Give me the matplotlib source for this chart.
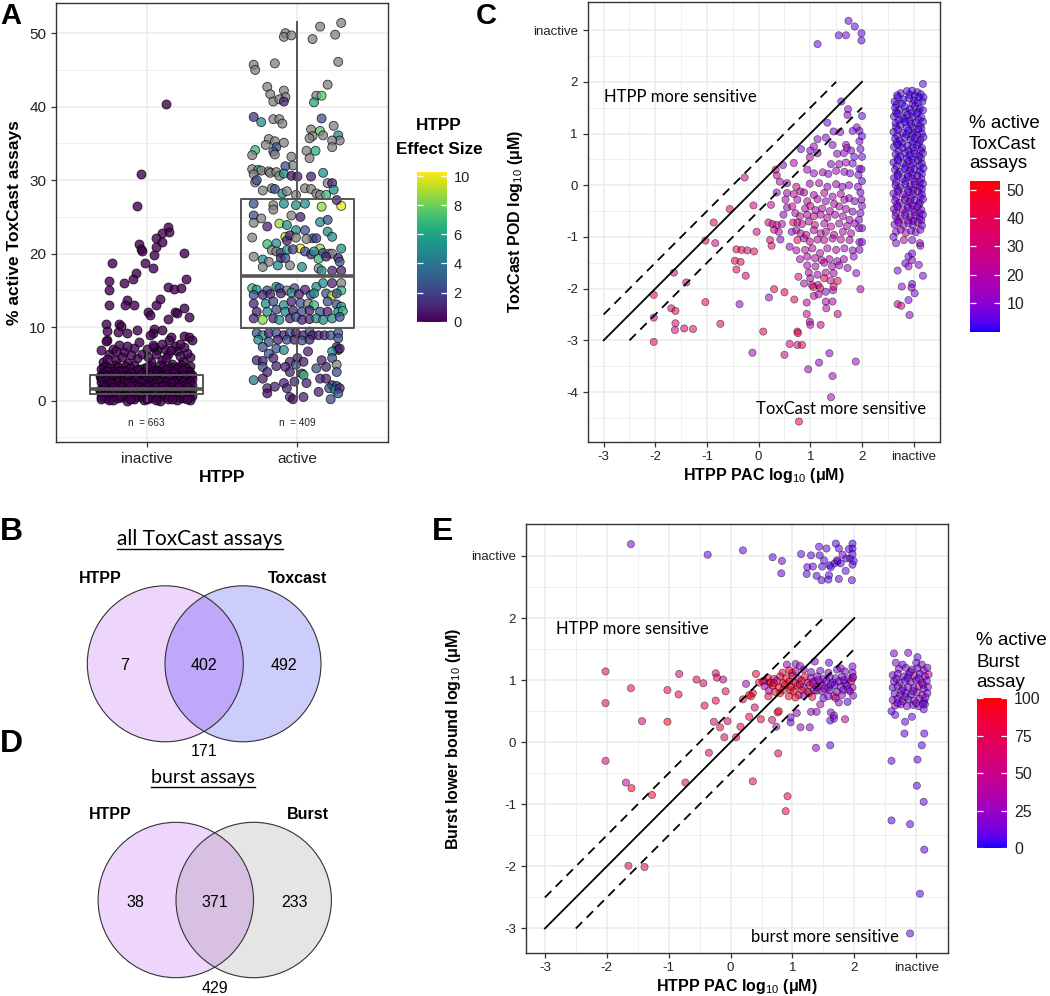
import numpy as np
import matplotlib
matplotlib.use("Agg")
import matplotlib.pyplot as plt
from matplotlib import cm
from matplotlib.colors import ListedColormap, Normalize
from matplotlib.patches import Circle

plt.rcParams["font.family"] = ["Liberation Sans", "DejaVu Sans"]
plt.rcParams["mathtext.fontset"] = "custom"
plt.rcParams["mathtext.rm"] = "Liberation Sans"
plt.rcParams["mathtext.it"] = "Liberation Sans:italic"
plt.rcParams["mathtext.bf"] = "Liberation Sans:bold"

# ---------------- panel A: % active ToxCast assays by HTPP call ----------------
a_groups = ["inactive", "active"]
a_counts = [663, 409]
# whislo, q1, median, q3, whishi
a_box_inactive = [0.0, 0.9, 1.6, 3.5, 7.2]
a_box_active = [0.2, 9.9, 17.0, 27.5, 51.5]

# (jitter, % active) -- effect size 0 for all HTPP inactives
a_inactive_pts = [
    (0.13, 40.3), (-0.04, 30.9), (-0.06, 26.5), (0.14, 23.7), (0.15, 22.9), (0.10, 22.8), (0.06, 22.2),
    (0.10, 21.6), (0.06, 20.9), (-0.05, 21.3), (-0.04, 20.7), (-0.03, 20.4), (0.25, 20.1), (0.05, 19.8),
    (-0.23, 18.8), (-0.01, 18.8), (0.04, 18.1), (-0.07, 17.4), (-0.09, 16.6), (-0.25, 16.3), (0.26, 16.5),
    (-0.15, 16.0), (-0.25, 15.0), (0.14, 15.5), (0.18, 15.2), (0.23, 15.4), (-0.13, 13.7), (0.09, 13.9),
    (-0.25, 13.0), (-0.08, 13.0), (-0.14, 13.0), (0.06, 13.0), (0.01, 12.1), (0.19, 12.1), (0.20, 11.9),
    (0.25, 12.6), (0.02, 11.6), (0.14, 11.1), (0.28, 11.4), (-0.27, 10.5), (-0.18, 10.5), (-0.17, 10.1),
    (-0.26, 9.5), (-0.19, 9.4), (-0.06, 9.6), (-0.13, 9.2), (0.05, 9.7), (0.04, 9.2), (0.10, 9.6),
    (0.02, 9.0), (0.16, 8.7), (0.25, 8.8), (0.28, 8.6), (-0.26, 8.3),
    (-0.29, 5.2), (-0.20, 5.5), (-0.12, 5.1), (-0.06, 5.8), (0.03, 5.3), (0.10, 5.6), (0.17, 5.0),
    (0.24, 5.4), (0.29, 5.9), (-0.25, 6.3), (-0.15, 6.6), (-0.03, 6.4), (0.07, 6.9), (0.14, 6.3),
    (0.20, 6.7), (0.27, 6.5), (-0.30, 6.9), (-0.22, 7.1), (-0.08, 7.2), (0.00, 7.0), (0.05, 7.3),
    (0.12, 7.1), (0.19, 7.4), (0.25, 7.3), (-0.18, 7.6), (0.10, 7.7), (-0.27, 8.1), (0.30, 8.2),
    (-0.26, 5.7), (-0.16, 5.9), (0.01, 6.0), (0.13, 5.8), (0.22, 6.1), (-0.10, 6.2), (0.06, 6.3),
    (-0.20, 6.8), (0.16, 6.9), (-0.13, 7.5), (0.04, 7.6), (0.22, 7.7), (-0.05, 8.0), (0.15, 8.3),
    (-0.27, 4.7), (-0.21, 4.8), (-0.14, 4.7), (-0.08, 4.9), (0.03, 4.75), (0.09, 4.8), (0.17, 4.65),
    (0.23, 4.9), (0.29, 4.7), (-0.29, 4.55), (-0.19, 4.6), (-0.02, 4.4), (0.11, 4.6), (0.21, 4.55),
    (-0.30, 4.3), (-0.24, 4.4), (-0.17, 4.2), (-0.11, 4.5), (-0.05, 4.3), (0.00, 4.6), (0.06, 4.2),
    (0.14, 4.4), (0.20, 4.3), (0.26, 4.5), (-0.22, 4.0), (-0.08, 3.9), (0.04, 4.0), (0.17, 4.0), (0.28, 4.1),
    (-0.29, 3.9), (-0.15, 4.0), (-0.02, 3.95), (0.10, 3.9), (0.22, 3.95), (-0.26, 4.1), (-0.18, 4.1),
    (-0.06, 4.15), (0.07, 4.1), (0.13, 4.15), (0.24, 4.2),
    (-0.28, 3.6), (-0.21, 3.7), (-0.15, 3.5), (-0.10, 3.8), (-0.04, 3.6), (0.02, 3.5), (0.07, 3.7),
    (0.13, 3.6), (0.18, 3.8), (0.24, 3.5), (0.29, 3.7), (-0.31, 3.4), (-0.23, 3.45), (-0.13, 3.4),
    (-0.01, 3.4), (0.09, 3.45), (0.20, 3.4), (0.30, 3.5), (-0.26, 3.3), (-0.12, 3.3), (0.00, 3.2),
    (0.11, 3.3), (0.22, 3.2), (-0.30, 3.2), (-0.20, 3.3), (-0.07, 3.25), (0.06, 3.3), (0.16, 3.2), (0.28, 3.3),
    (-0.30, 2.9), (-0.25, 3.0), (-0.19, 2.8), (-0.13, 3.1), (-0.07, 2.9), (-0.02, 2.8), (0.04, 3.0),
    (0.10, 2.9), (0.15, 3.1), (0.21, 2.8), (0.26, 3.0), (0.30, 2.9), (-0.27, 2.75), (-0.16, 2.7),
    (-0.05, 2.7), (0.07, 2.75), (0.18, 2.7), (0.28, 2.7), (-0.24, 2.6), (-0.10, 2.6),
    (0.02, 2.5), (0.13, 2.6), (0.24, 2.6), (-0.30, 2.5), (-0.19, 2.6), (-0.15, 2.5), (-0.04, 2.55),
    (0.08, 2.6), (0.18, 2.5), (0.29, 2.55),
    (-0.29, 2.2), (-0.23, 2.3), (-0.17, 2.1), (-0.12, 2.4), (-0.06, 2.2), (0.00, 2.1), (0.05, 2.3),
    (0.11, 2.2), (0.16, 2.4), (0.22, 2.1), (0.27, 2.3), (-0.26, 2.0), (-0.19, 2.05), (-0.08, 2.0),
    (0.03, 2.05), (0.13, 2.0), (0.24, 2.0), (0.30, 2.1), (-0.28, 1.8), (-0.22, 1.9), (-0.16, 1.85),
    (-0.11, 1.95), (-0.05, 1.8), (0.00, 1.9), (0.06, 1.85), (0.11, 1.95), (0.16, 1.8), (0.21, 1.9), (0.27, 1.85),
    (-0.31, 1.5), (-0.26, 1.4), (-0.20, 1.6), (-0.14, 1.5), (-0.09, 1.3), (-0.03, 1.6), (0.02, 1.4),
    (0.08, 1.5), (0.13, 1.6), (0.19, 1.3), (0.24, 1.5), (0.30, 1.4), (-0.31, 1.3), (-0.24, 1.25),
    (-0.15, 1.35), (-0.05, 1.3), (0.06, 1.3), (0.16, 1.4), (0.25, 1.3), (-0.27, 1.1), (-0.18, 1.2),
    (-0.06, 1.1), (0.05, 1.0), (0.16, 1.1), (0.26, 1.2), (-0.30, 1.0), (-0.22, 1.1), (-0.12, 1.05),
    (0.00, 1.15), (0.10, 1.1), (0.21, 1.0), (0.29, 1.1), (-0.01, 1.2),
    (-0.28, 0.8), (-0.22, 0.9), (-0.16, 0.7), (-0.11, 0.9), (-0.05, 0.8), (0.01, 0.7), (0.06, 0.9),
    (0.12, 0.8), (0.17, 0.7), (0.23, 0.9), (0.28, 0.8), (-0.25, 0.65), (-0.13, 0.6), (-0.02, 0.65),
    (0.09, 0.6), (0.20, 0.65), (0.30, 0.7), (-0.20, 0.5), (-0.07, 0.5), (0.07, 0.4),
    (0.19, 0.5), (-0.30, 0.5), (0.28, 0.5), (-0.27, 0.4), (-0.16, 0.45), (-0.10, 0.35), (0.01, 0.4),
    (0.12, 0.45), (0.23, 0.35), (-0.03, 0.5), (0.15, 0.6),
    (-0.30, 0.2), (-0.25, 0.1), (-0.19, 0.3), (-0.13, 0.0), (-0.08, 0.2), (-0.02, 0.1), (0.03, 0.3),
    (0.09, 0.0), (0.14, 0.2), (0.20, 0.1), (0.25, 0.3), (0.29, 0.1), (-0.22, 0.15), (-0.11, 0.2),
    (0.00, 0.25), (0.06, 0.15), (0.17, 0.25), (0.27, 0.2),
]

# (jitter, % active, HTPP effect size; None = missing -> grey)
a_active_pts = [
    (0.29, 51.4, None), (0.15, 50.9, None), (0.25, 49.8, None), (0.10, 49.2, None), (-0.08, 50.0, None),
    (-0.09, 49.5, None), (-0.04, 49.7, None), (0.27, 46.1, None), (-0.29, 45.7, None), (-0.28, 45.0, None),
    (-0.15, 45.9, None), (0.20, 43.0, None), (-0.20, 42.7, None), (-0.18, 41.7, None), (-0.09, 42.2, None),
    (-0.08, 41.3, None), (-0.16, 40.7, None), (-0.12, 41.0, None), (-0.09, 40.7, 1.0), (0.125, 41.5, None),
    (0.16, 41.5, 7.5), (0.11, 40.6, 6.0), (-0.29, 38.6, 1.5), (-0.24, 37.9, 5.0), (-0.16, 38.3, None),
    (-0.12, 38.3, None), (-0.10, 37.7, None), (0.16, 38.4, 2.5), (0.09, 36.9, None), (0.15, 36.7, 7.5),
    (0.10, 36.0, None), (0.08, 35.7, None), (0.17, 36.1, None), (0.24, 37.4, None), (0.27, 36.1, 5.0),
    (0.28, 35.4, None), (0.23, 35.4, None), (0.23, 34.5, None), (-0.19, 35.6, None), (-0.15, 35.3, None),
    (-0.21, 34.8, None), (-0.14, 34.5, 2.5), (-0.16, 33.9, 3.0), (-0.15, 33.5, None), (-0.09, 35.1, None),
    (-0.28, 34.1, 7.0), (-0.30, 33.4, None), (-0.04, 33.2, None), (0.12, 34.0, 6.5), (0.06, 34.0, None),
    (0.08, 33.0, None), (-0.03, 32.0, None), (-0.08, 31.9, 2.5), (-0.30, 31.5, None), (-0.26, 31.4, 6.0),
    (-0.24, 31.3, None), (-0.29, 30.8, None), (-0.28, 29.7, None), (-0.27, 30.0, 2.5), (-0.19, 31.2, None),
    (-0.18, 31.0, None), (-0.14, 31.1, None), (-0.12, 30.6, None), (-0.09, 30.9, 5.0), (-0.04, 30.6, 0.5),
    (0.00, 30.5, 1.0), (0.09, 30.5, 1.0), (0.17, 31.0, 5.0), (0.20, 29.6, None), (0.23, 29.6, 1.0),
    (0.24, 28.7, 5.0), (-0.23, 28.6, None), (-0.17, 28.9, None), (-0.15, 28.8, 2.5), (-0.10, 28.2, 5.0),
    (-0.07, 28.5, None), (0.05, 28.9, None), (0.09, 28.8, None), (0.125, 28.2, None), (0.15, 28.0, None),
    (0.19, 28.0, 7.0), (-0.01, 28.0, None), (0.29, 26.5, 10.0), (0.26, 27.3, 1.0), (0.16, 26.4, 8.5),
    (-0.29, 26.8, 2.5), (-0.16, 26.6, None), (-0.16, 26.0, None), (-0.09, 26.8, 5.0), (-0.01, 26.6, 5.0),
    (0.05, 26.8, 5.0), (-0.29, 25.2, 2.5), (-0.04, 25.2, None), (0.02, 25.0, 1.0), (-0.29, 24.2, None),
    (-0.24, 24.8, None), (-0.12, 24.1, 8.5), (-0.07, 23.9, 5.0), (0.15, 24.3, 5.0), (0.20, 24.6, 2.5),
    (-0.20, 23.7, 1.0), (-0.01, 23.2, 5.0), (0.05, 23.2, 2.5), (0.20, 23.0, 5.0), (0.23, 22.3, 5.0),
    (-0.30, 22.2, None), (-0.08, 22.3, 9.0), (-0.07, 21.8, 1.0), (-0.05, 22.5, 1.0), (-0.01, 22.2, None),
    (0.10, 22.1, 2.5), (0.125, 22.1, 2.0), (0.06, 22.0, None), (-0.14, 21.4, 5.0), (-0.20, 21.3, 7.0),
    (0.02, 20.7, 10.0), (0.15, 20.7, 8.5), (0.29, 20.7, 5.0), (-0.17, 20.5, None), (-0.14, 20.3, None),
    (-0.11, 20.1, 2.5), (-0.07, 20.5, 5.0), (-0.03, 20.6, 2.0), (0.05, 20.3, 2.5), (0.09, 19.9, 1.0),
    (0.11, 20.3, 5.0), (0.17, 20.1, 2.5), (0.21, 20.0, None), (0.23, 20.0, None), (-0.29, 19.6, None),
    (-0.23, 19.2, 5.0), (-0.19, 18.9, None), (-0.11, 19.4, 1.0), (-0.08, 19.4, 2.5), (0.14, 19.3, 7.0),
    (0.19, 19.6, 1.0), (0.27, 19.4, 1.0), (0.28, 18.9, 2.5), (-0.23, 18.2, None), (-0.13, 18.4, 5.0),
    (-0.05, 18.4, None), (0.03, 18.2, 5.0), (0.14, 18.0, None), (0.16, 17.7, 5.0), (0.23, 17.7, 1.0),
    (0.29, 17.7, 1.0),
    (-0.30, 15.3, 7.0), (-0.27, 15.1, 5.0), (-0.20, 15.0, 2.5), (-0.14, 15.5, 5.0), (-0.12, 15.3, 2.5),
    (-0.07, 15.0, None), (-0.02, 15.3, 2.5), (0.05, 15.1, 1.0), (0.125, 15.5, 5.0), (0.17, 16.0, 5.0),
    (0.23, 16.0, 1.0), (0.29, 16.0, None), (0.29, 15.0, 7.0), (-0.29, 14.4, 2.5), (-0.23, 14.4, 1.0),
    (-0.18, 14.5, 1.0), (-0.11, 14.6, 1.0), (-0.04, 14.7, 5.0), (0.01, 14.5, 1.0), (0.09, 14.4, 2.5),
    (0.11, 14.6, 5.0), (0.19, 14.6, 2.5), (0.23, 14.3, 9.0), (0.26, 14.6, 2.5), (-0.29, 13.2, 1.0),
    (-0.21, 13.2, 5.0), (-0.16, 13.5, 2.5), (-0.09, 13.0, 5.0), (-0.04, 13.5, 1.0), (0.02, 13.3, 2.5),
    (0.07, 13.2, None), (0.11, 13.0, 7.0), (0.20, 13.5, 2.5), (0.26, 13.1, 2.5), (0.29, 12.8, 5.0),
    (-0.27, 12.1, 1.0), (-0.20, 12.1, 5.0), (-0.14, 12.4, 2.5), (-0.08, 12.1, 5.0), (-0.03, 12.3, 1.0),
    (0.03, 12.1, 2.5), (0.08, 12.3, 1.0), (0.15, 12.1, 2.5), (0.20, 12.1, 1.0), (0.27, 12.1, 5.0),
    (0.30, 12.2, 7.0), (-0.29, 11.2, 1.0), (-0.23, 11.0, 8.5), (-0.16, 11.2, 1.0), (-0.12, 11.0, 5.0),
    (-0.05, 11.2, 1.0), (-0.01, 11.4, 2.5), (0.03, 11.0, 1.0), (0.08, 11.1, 1.0), (0.125, 11.2, 5.0),
    (0.17, 11.0, 5.0), (0.23, 11.2, 5.0), (0.28, 11.4, 2.5), (-0.27, 9.2, 2.5), (-0.23, 8.9, 5.0),
    (-0.19, 9.2, 1.0), (-0.14, 9.2, 2.5), (-0.09, 8.9, 1.0), (-0.05, 9.2, 2.5), (-0.01, 9.2, 1.0),
    (0.04, 8.9, 1.0), (0.08, 9.4, 2.5), (0.10, 8.9, 1.0), (0.14, 8.9, 1.0), (0.18, 8.9, 1.0),
    (0.22, 8.9, 2.5), (0.27, 9.2, 2.5), (-0.26, 8.3, 5.0), (-0.19, 8.0, 2.5), (-0.13, 8.3, 1.0),
    (-0.07, 8.3, 2.5), (-0.02, 8.3, 1.0), (0.03, 8.2, 2.5), (0.08, 8.3, 1.0), (0.27, 8.5, 2.5),
    (0.26, 7.3, 1.0), (0.27, 6.9, 0.5), (-0.23, 7.3, 2.5), (-0.14, 7.1, 2.5), (-0.09, 6.9, 5.0),
    (-0.19, 6.4, 2.5), (0.07, 6.7, 1.0), (0.23, 6.7, 5.0), (0.28, 7.1, 1.0), (-0.27, 5.5, 1.0),
    (-0.23, 5.4, 1.0), (-0.16, 5.8, 1.0), (-0.05, 5.3, 1.0), (0.00, 5.8, 1.0), (0.04, 5.3, 1.0),
    (0.16, 5.5, 1.0), (0.23, 5.8, 2.5), (-0.23, 4.6, 2.5), (-0.14, 4.7, 1.0), (-0.08, 4.6, 1.0),
    (-0.01, 4.9, 2.5), (0.125, 4.4, 2.5), (0.19, 4.6, 1.0), (0.26, 4.9, None), (-0.20, 3.9, 1.0),
    (-0.05, 3.9, 1.0), (0.03, 3.7, 1.0), (0.04, 3.5, 7.0), (0.26, 3.9, 2.5), (-0.29, 2.8, 4.0),
    (-0.23, 3.0, 1.0), (-0.09, 2.4, 1.0), (-0.02, 2.6, 1.0), (0.06, 2.4, 1.0), (0.15, 3.0, 1.0),
    (0.19, 3.0, 1.0), (0.23, 2.1, 1.0), (0.26, 2.0, 2.5), (-0.20, 1.7, 1.0), (-0.20, 1.0, 0.3),
    (-0.15, 1.9, 1.0), (-0.07, 1.7, 1.0), (0.21, 1.7, 2.5), (0.25, 1.5, 5.0), (0.28, 1.7, 1.0),
    (0.27, 1.0, 2.5), (-0.05, 0.5, 1.0), (-0.03, 0.2, 0.3), (0.04, 0.5, 1.0), (0.14, 1.2, 1.0),
    (0.22, 0.2, 2.5),
]

# ---------------- panel C: ToxCast POD vs HTPP PAC (3 = inactive) ----------------
c_points = [
    (1.74, 3.18, 6), (1.86, 3.07, 5), (1.99, 2.94, 5), (1.99, 2.80, 5), (1.55, 2.90, 6), (1.69, 2.90, 5),
    (1.14, 2.73, 5),
    (1.60, 1.62, 6), (1.73, 1.47, 10), (1.72, 1.36, 9), (2.00, 1.34, 6), (1.82, 1.05, 7), (1.95, 1.05, 6),
    (1.90, 1.12, 10), (1.33, 1.21, 7), (1.45, 1.04, 9), (1.58, 1.03, 10), (1.14, 0.89, 10), (1.30, 0.92, 9),
    (1.07, 0.75, 13), (1.00, 0.67, 9), (1.43, 0.78, 10), (1.69, 0.78, 12), (1.71, 0.72, 15), (1.95, 0.85, 7),
    (1.97, 0.70, 6), (2.00, 0.55, 7), (1.79, 0.67, 9), (0.82, 0.70, 7), (0.99, 0.54, 22), (1.14, 0.62, 15),
    (1.52, 0.61, 10), (1.65, 0.62, 9), (1.85, 0.55, 7), (0.47, 0.39, 9), (0.68, 0.43, 18), (1.40, 0.41, 10),
    (1.56, 0.41, 13), (1.69, 0.44, 15), (1.82, 0.42, 9), (1.95, 0.32, 7), (0.33, 0.30, 28), (0.35, 0.19, 22),
    (0.41, 0.07, 20), (0.55, 0.04, 15), (-0.27, 0.15, 30), (0.94, 0.30, 15), (1.07, 0.23, 13), (1.24, 0.25, 18),
    (1.35, 0.22, 10), (1.50, 0.28, 15), (1.66, 0.26, 12), (1.77, 0.23, 9), (1.93, 0.20, 7), (1.99, 0.31, 9),
    (0.73, -0.03, 30), (0.81, -0.12, 18), (0.99, 0.03, 15), (1.17, 0.04, 18), (1.33, -0.03, 13), (1.50, 0.02, 15),
    (1.62, -0.03, 10), (1.75, 0.00, 12), (1.92, -0.03, 9), (1.97, -0.14, 7), (2.00, 0.08, 7), (2.00, 0.95, 6),
    (0.35, -0.14, 10), (0.55, -0.15, 13), (0.68, -0.17, 22), (0.88, -0.14, 18), (1.07, -0.19, 17), (1.27, -0.15, 22),
    (1.43, -0.22, 15), (1.59, -0.17, 18), (1.75, -0.25, 12), (1.99, -0.28, 9), (0.52, -0.28, 18), (0.75, -0.28, 15),
    (0.94, -0.31, 24), (1.14, -0.27, 18), (1.30, -0.31, 13), (1.46, -0.36, 18), (1.66, -0.28, 15), (1.86, -0.31, 10),
    (0.24, -0.38, 25), (0.55, -0.43, 15), (0.65, -0.41, 24), (0.90, -0.45, 20), (1.00, -0.40, 26), (1.10, -0.48, 18),
    (1.23, -0.45, 22), (1.38, -0.50, 17), (1.56, -0.41, 20), (1.69, -0.46, 15), (1.82, -0.51, 12), (1.97, -0.54, 9),
    (2.00, -0.40, 12), (-0.10, -0.39, 30), (-0.56, -0.46, 38), (0.48, -0.57, 12), (0.71, -0.54, 18), (0.80, -0.60, 22),
    (0.94, -0.57, 20), (1.07, -0.60, 24), (1.20, -0.57, 18), (1.33, -0.63, 22), (1.48, -0.57, 15), (1.63, -0.60, 18),
    (1.76, -0.67, 13), (1.94, -0.67, 10), (0.67, -0.72, 35), (0.75, -0.72, 28), (0.84, -0.75, 22), (0.97, -0.70, 20),
    (1.09, -0.77, 26), (1.27, -0.74, 18), (1.40, -0.80, 22), (1.56, -0.74, 17), (1.71, -0.79, 18), (1.86, -0.74, 13),
    (2.00, -0.83, 10), (0.19, -0.72, 30), (0.27, -0.75, 28), (0.35, -0.77, 24), (0.45, -0.75, 20), (0.39, -0.90, 18),
    (0.30, -0.86, 26), (0.64, -0.90, 12), (0.73, -0.87, 18), (0.81, -0.93, 22), (0.92, -0.96, 25), (1.07, -0.87, 20),
    (1.20, -0.93, 22), (1.30, -0.90, 18), (1.46, -0.96, 22), (1.63, -0.90, 18), (1.79, -0.93, 15), (1.94, -0.83, 10),
    (-0.87, -0.72, 42), (-0.04, -0.90, 30), (0.22, -1.06, 32), (0.42, -1.05, 10), (0.75, -1.06, 38), (0.88, -1.03, 18),
    (0.99, -1.09, 22), (1.14, -1.05, 20), (1.27, -1.06, 25), (1.43, -1.03, 18), (1.59, -1.05, 22), (1.76, -1.06, 15),
    (1.95, -1.10, 9), (2.00, -1.10, 9), (-1.03, -1.07, 42), (-0.84, -1.12, 32), (0.25, -1.17, 35), (0.60, -1.19, 12),
    (0.73, -1.26, 18), (0.90, -1.25, 20), (1.04, -1.22, 22), (1.19, -1.31, 18), (1.33, -1.22, 17), (1.50, -1.25, 20),
    (1.66, -1.22, 15), (1.82, -1.26, 12), (1.95, -1.25, 9), (-0.43, -1.24, 42), (-0.33, -1.25, 40), (-0.22, -1.26, 32),
    (-0.09, -1.28, 38), (0.80, -1.43, 18), (0.94, -1.38, 20), (1.09, -1.41, 17), (1.22, -1.45, 22), (1.37, -1.43, 18),
    (1.52, -1.47, 15), (1.65, -1.43, 17), (1.84, -1.38, 12), (-0.46, -1.46, 32), (-0.35, -1.48, 38), (0.94, -1.55, 17),
    (1.10, -1.57, 20), (1.27, -1.50, 18), (1.42, -1.57, 15), (1.56, -1.55, 18), (1.72, -1.60, 13), (-0.43, -1.63, 42),
    (-0.25, -1.75, 32), (-1.64, -1.69, 32), (-1.40, -1.88, 32), (0.97, -1.69, 18), (1.14, -1.73, 15), (1.30, -1.69, 20),
    (1.45, -1.70, 15), (1.89, -1.70, 11), (0.77, -1.77, 30), (0.88, -1.90, 18), (1.00, -1.80, 17), (1.27, -1.80, 38),
    (1.39, -1.84, 25), (1.53, -1.85, 35), (1.03, -1.93, 20), (1.15, -1.93, 18), (1.06, -1.97, 38), (1.19, -1.99, 38),
    (1.30, -2.06, 11), (1.44, -2.03, 18), (1.45, -1.96, 35), (0.30, -2.01, 42), (0.50, -2.07, 42), (0.20, -2.17, 12),
    (0.69, -2.21, 42), (1.97, -2.01, 18), (-2.03, -2.12, 45), (-0.37, -2.30, 12), (-1.03, -2.26, 42), (1.07, -2.14, 22),
    (1.16, -2.11, 20), (0.93, -2.27, 18), (1.30, -2.25, 18), (1.43, -2.25, 17), (1.31, -2.38, 20), (-1.69, -2.38, 32),
    (-1.61, -2.43, 38), (-2.03, -2.56, 25), (0.93, -2.49, 25), (1.53, -2.49, 25), (0.99, -2.64, 20), (1.00, -2.70, 20),
    (1.20, -2.70, 22), (-0.74, -2.68, 38), (-1.61, -2.67, 32), (-1.62, -2.80, 28), (-1.44, -2.77, 32), (-1.27, -2.78, 38),
    (0.09, -2.83, 38), (0.75, -2.83, 42), (0.76, -2.86, 38), (-2.03, -3.03, 38), (0.60, -3.07, 30), (0.75, -3.09, 28),
    (0.84, -3.09, 35), (-0.12, -3.24, 15), (0.50, -3.28, 30), (1.37, -3.25, 12), (1.17, -3.43, 12), (1.88, -3.41, 14),
    (0.96, -3.56, 15), (1.43, -3.69, 14), (1.40, -4.10, 16), (0.78, -4.57, 45),
]
c_inactive_pts = [
    (3.18, 1.96, 3), (2.75, 1.78, 4), (2.87, 1.82, 3), (2.97, 1.83, 3), (3.07, 1.80, 4), (3.14, 1.76, 5),
    (2.68, 1.74, 3), (2.92, 1.75, 2), (3.02, 1.73, 4), (3.19, 1.70, 3),
    (2.63, 1.62, 4), (2.70, 1.70, 3), (2.80, 1.66, 2), (2.91, 1.68, 3), (3.01, 1.64, 3), (3.10, 1.70, 2), (3.17, 1.62, 3),
    (2.67, 1.56, 3), (2.77, 1.58, 2), (2.98, 1.57, 4), (3.08, 1.59, 3),
    (2.64, 1.50, 3), (2.72, 1.45, 3), (2.83, 1.52, 2), (2.93, 1.47, 3), (3.03, 1.53, 4), (3.12, 1.48, 3), (3.18, 1.45, 5),
    (2.66, 1.41, 2), (2.85, 1.42, 3), (2.96, 1.40, 4), (3.09, 1.42, 2),
    (2.62, 1.33, 2), (2.69, 1.38, 3), (2.78, 1.30, 3), (2.88, 1.36, 5), (2.98, 1.32, 3), (3.06, 1.38, 2), (3.15, 1.31, 3),
    (2.71, 1.26, 3), (2.83, 1.28, 2), (2.92, 1.25, 4), (3.10, 1.27, 3),
    (2.65, 1.20, 3), (2.74, 1.16, 3), (2.84, 1.22, 2), (2.95, 1.18, 4), (3.04, 1.21, 3), (3.12, 1.15, 3), (3.18, 1.23, 3),
    (2.66, 1.12, 4), (2.87, 1.12, 2), (2.99, 1.11, 3), (3.15, 1.10, 4),
    (2.61, 1.03, 3), (2.70, 1.07, 4), (2.79, 1.01, 3), (2.90, 1.06, 2), (3.00, 1.02, 3), (3.09, 1.08, 3), (3.16, 1.00, 4),
    (2.68, 0.96, 3), (2.86, 0.98, 2), (2.97, 0.96, 4), (3.07, 0.97, 3),
    (2.64, 0.90, 3), (2.73, 0.86, 3), (2.83, 0.92, 4), (2.94, 0.88, 3), (3.03, 0.91, 5), (3.13, 0.87, 2), (3.19, 0.93, 3),
    (2.67, 0.82, 4), (2.78, 0.81, 3), (2.99, 0.82, 3), (3.10, 0.81, 4),
    (2.62, 0.74, 4), (2.69, 0.78, 3), (2.78, 0.72, 3), (2.88, 0.76, 5), (2.98, 0.73, 3), (3.07, 0.78, 3), (3.16, 0.72, 3),
    (2.71, 0.66, 4), (2.90, 0.67, 3), (3.01, 0.66, 5), (3.14, 0.67, 3),
    (2.65, 0.60, 3), (2.74, 0.56, 5), (2.84, 0.62, 3), (2.93, 0.58, 3), (3.02, 0.61, 4), (3.11, 0.56, 3), (3.18, 0.62, 5),
    (2.69, 0.52, 3), (2.87, 0.52, 4), (2.97, 0.51, 3), (3.14, 0.52, 5),
    (2.61, 0.44, 3), (2.70, 0.48, 3), (2.80, 0.42, 5), (2.90, 0.47, 3), (2.99, 0.43, 5), (3.08, 0.48, 3), (3.16, 0.42, 4),
    (2.67, 0.37, 4), (2.85, 0.37, 3), (2.95, 0.36, 5), (3.12, 0.37, 4),
    (2.64, 0.30, 5), (2.73, 0.26, 3), (2.83, 0.32, 3), (2.93, 0.28, 6), (3.02, 0.31, 3), (3.12, 0.27, 4), (3.19, 0.33, 3),
    (2.69, 0.22, 4), (2.88, 0.22, 5), (2.98, 0.21, 3), (3.16, 0.22, 4),
    (2.62, 0.14, 4), (2.69, 0.18, 5), (2.79, 0.12, 3), (2.89, 0.16, 5), (2.98, 0.13, 7), (3.07, 0.18, 3), (3.15, 0.12, 5),
    (2.66, 0.06, 6), (2.84, 0.08, 4), (3.02, 0.07, 5), (3.12, 0.06, 7),
    (2.65, 0.00, 6), (2.74, -0.04, 5), (2.84, 0.02, 7), (2.94, -0.02, 4), (3.03, 0.01, 5), (3.12, -0.04, 6), (3.18, 0.03, 3),
    (2.69, -0.08, 7), (2.89, -0.08, 5), (2.99, -0.09, 8), (3.16, -0.08, 5),
    (2.61, -0.16, 7), (2.70, -0.12, 5), (2.80, -0.18, 8), (2.90, -0.13, 6), (2.99, -0.17, 5), (3.08, -0.12, 7), (3.16, -0.18, 4),
    (2.66, -0.23, 8), (2.85, -0.23, 6), (2.95, -0.24, 9), (3.13, -0.23, 6),
    (2.64, -0.30, 8), (2.73, -0.34, 6), (2.83, -0.28, 10), (2.93, -0.32, 7), (3.02, -0.29, 5), (3.12, -0.34, 8), (3.18, -0.27, 5),
    (2.68, -0.38, 9), (2.88, -0.38, 7), (2.98, -0.39, 10), (3.10, -0.38, 6),
    (2.62, -0.46, 9), (2.69, -0.42, 7), (2.79, -0.48, 11), (2.89, -0.43, 8), (2.98, -0.47, 6), (3.07, -0.42, 9), (3.15, -0.48, 5),
    (2.66, -0.53, 10), (2.84, -0.53, 8), (3.02, -0.52, 11), (3.12, -0.54, 7),
    (2.65, -0.60, 8), (2.74, -0.64, 10), (2.84, -0.58, 7), (2.94, -0.62, 9), (3.03, -0.59, 6), (3.12, -0.64, 8), (3.18, -0.57, 6),
    (2.69, -0.68, 9), (2.89, -0.68, 11), (2.99, -0.69, 8), (3.15, -0.68, 9),
    (2.63, -0.76, 8), (2.71, -0.72, 11), (2.80, -0.78, 8), (2.90, -0.73, 10), (2.99, -0.77, 7), (3.08, -0.72, 9), (3.16, -0.78, 7),
    (2.66, -0.90, 9), (2.75, -0.86, 11), (2.85, -0.92, 20), (2.95, -0.88, 8), (3.04, -0.91, 7), (3.13, -0.86, 10),
    (2.61, -1.00, 7), (2.66, -1.12, 8), (2.81, -1.06, 20), (2.97, -1.06, 9), (3.13, -1.17, 11), (3.12, -1.12, 14),
    (2.97, -1.32, 8), (2.90, -1.38, 7), (2.97, -1.45, 9), (3.10, -1.54, 11), (3.18, -1.75, 8), (2.69, -1.65, 9),
    (2.84, -1.51, 7), (2.90, -1.57, 14), (2.77, -1.96, 12), (2.97, -1.91, 7), (2.96, -1.98, 11), (3.02, -2.09, 7),
    (2.90, -2.22, 8), (2.69, -2.30, 25), (2.76, -2.33, 28), (2.92, -2.51, 10),
]

# ---------------- panel E: burst lower bound vs HTPP PAC (3 = inactive) ----------------
e_points = [
    (-1.61, 3.19, 12), (-0.37, 3.02, 10), (0.20, 3.09, 8), (0.68, 2.98, 10), (0.83, 2.92, 12), (0.82, 2.72, 10),
    (1.14, 3.03, 10), (1.30, 3.01, 8), (1.43, 3.15, 10), (1.44, 3.01, 6), (1.55, 3.12, 12), (1.70, 3.20, 8),
    (1.75, 3.12, 10), (1.97, 3.20, 6), (1.97, 3.12, 5), (1.91, 3.11, 8), (1.93, 2.96, 10), (1.73, 2.91, 6),
    (1.68, 2.88, 12), (1.60, 2.85, 8), (1.48, 2.83, 10), (1.24, 2.82, 12), (1.23, 2.71, 8), (1.39, 2.68, 10),
    (1.47, 2.61, 8), (1.58, 2.62, 12), (1.59, 2.69, 10), (1.75, 2.63, 8), (1.86, 2.76, 10), (1.96, 2.61, 12),
    (1.97, 2.86, 8), (1.99, 2.92, 6), (1.87, 2.96, 10), (1.81, 3.02, 12), (1.51, 2.93, 10), (1.62, 2.82, 5),
    (1.33, 2.83, 12), (1.97, 3.03, 8), (1.72, 2.93, 14), (1.78, 2.88, 6),
    (-2.02, 1.14, 60), (-2.02, 0.63, 85), (-2.02, -0.30, 60), (-1.61, 0.87, 85), (-1.69, -0.65, 45), (-1.60, -0.74, 90),
    (-1.43, 0.34, 60), (-1.27, -0.85, 90), (-1.65, -1.99, 65), (-1.39, -2.01, 70), (-1.02, 0.84, 85), (-0.84, 0.77, 80),
    (-1.02, 0.33, 90), (-0.83, 1.10, 60), (-0.73, -0.65, 60), (-0.55, 1.01, 80), (-0.44, 0.95, 60), (-0.42, 0.59, 85),
    (-0.24, 1.11, 60), (-0.22, 1.04, 65), (-0.24, 0.67, 85), (-0.12, 1.01, 55), (-0.08, 0.82, 65), (-0.27, 0.33, 60),
    (-0.17, 0.24, 85), (-0.10, 0.08, 60), (-0.35, -0.17, 60), (-0.05, 0.34, 60), (0.16, 0.25, 65), (0.09, 0.08, 85),
    (0.20, 0.69, 85), (0.25, 0.94, 30), (0.30, 0.76, 90), (0.36, 0.79, 85), (0.33, 0.74, 95), (0.39, 0.56, 60),
    (0.30, 0.41, 85), (0.49, 0.37, 85), (0.36, -0.63, 80), (0.41, 1.10, 85), (0.46, 0.96, 85), (0.54, 0.99, 30),
    (0.61, 0.74, 85), (0.67, 0.36, 65), (0.74, 0.25, 30), (0.76, 0.48, 95), (0.78, 0.50, 85), (0.77, -0.18, 80),
    (0.92, -0.87, 85), (0.89, -1.11, 85), (0.91, 1.25, 25), (1.05, 1.26, 20), (1.12, 1.23, 25), (1.36, 1.30, 15),
    (1.59, 1.28, 8), (1.78, 1.19, 20), (1.97, 1.22, 15), (1.97, 1.12, 20), (1.97, 1.03, 30), (0.99, 1.12, 85),
    (0.84, 1.12, 80), (0.63, 0.96, 75), (0.80, 0.79, 95), (0.94, 0.74, 90), (0.97, 0.84, 80), (1.10, 0.76, 85),
    (1.27, 0.79, 25), (1.39, 0.83, 20), (1.50, 0.71, 8), (1.67, 0.74, 60), (1.70, 0.71, 45), (1.75, 0.64, 20),
    (1.89, 0.65, 8), (1.07, 0.47, 25), (1.13, 0.24, 25), (1.28, 0.24, 20), (0.97, 0.32, 10), (0.97, 0.40, 15),
    (1.30, 0.49, 25), (1.39, 0.49, 20), (1.45, 0.61, 30), (1.62, 0.48, 20), (1.67, 0.43, 20), (1.67, 0.38, 15),
    (1.61, 0.35, 8), (1.85, 0.37, 45), (1.38, -0.09, 20), (1.61, -0.05, 8),
    (0.95, 1.16, 90), (1.05, 1.14, 40), (1.18, 1.17, 30), (1.30, 1.13, 15), (1.45, 1.15, 15), (1.58, 1.12, 20),
    (1.72, 1.17, 12), (1.85, 1.14, 15), (0.60, 1.04, 80), (0.70, 1.02, 45), (0.80, 1.06, 85), (0.90, 1.03, 90),
    (1.00, 1.07, 60), (1.10, 1.02, 30), (1.20, 1.05, 85), (1.30, 1.03, 25), (1.40, 1.06, 15), (1.50, 1.02, 10),
    (1.60, 1.05, 20), (1.70, 1.03, 12), (1.80, 1.06, 25), (1.90, 1.02, 10), (1.98, 1.05, 20), (0.52, 0.98, 85),
    (0.65, 0.96, 90), (0.75, 0.99, 40), (0.85, 0.95, 95), (0.95, 0.98, 85), (1.05, 0.95, 90), (1.15, 0.99, 95),
    (1.25, 0.96, 40), (1.35, 0.98, 20), (1.45, 0.95, 45), (1.55, 0.99, 15), (1.65, 0.96, 20), (1.75, 0.98, 10),
    (1.85, 0.95, 20), (1.95, 0.98, 60), (0.55, 0.90, 30), (0.68, 0.91, 85), (0.78, 0.88, 90), (0.88, 0.92, 95),
    (0.98, 0.89, 95), (1.08, 0.91, 85), (1.18, 0.88, 30), (1.28, 0.92, 80), (1.38, 0.89, 25), (1.48, 0.91, 15),
    (1.58, 0.88, 20), (1.68, 0.92, 12), (1.78, 0.89, 25), (1.88, 0.91, 15), (1.97, 0.88, 30), (0.62, 0.83, 40),
    (0.72, 0.81, 85), (0.85, 0.84, 90), (1.02, 0.82, 95), (1.15, 0.84, 90), (1.25, 0.81, 85), (1.35, 0.84, 20),
    (1.48, 0.82, 15), (1.60, 0.84, 12), (1.72, 0.81, 20), (1.82, 0.84, 15), (1.93, 0.82, 20), (1.05, 0.72, 80),
    (1.18, 0.75, 30), (1.32, 0.73, 85), (1.58, 0.74, 20), (1.80, 0.76, 25), (1.98, 0.75, 20), (1.12, 0.93, 60),
    (1.42, 1.00, 30), (1.62, 0.93, 15), (1.83, 1.00, 12), (0.70, 0.95, 90), (1.52, 0.86, 25), (1.33, 0.95, 40),
    (1.90, 0.85, 15),
]
e_inactive_pts = [
    (2.64, 1.43, 15), (2.87, 1.44, 18), (3.02, 1.37, 12), (2.67, 1.28, 18), (3.09, 1.25, 15),
    (2.72, 1.18, 12), (2.83, 1.20, 22), (2.93, 1.17, 10), (3.02, 1.19, 18), (3.12, 1.16, 25), (3.18, 1.20, 12),
    (2.62, 1.08, 10), (2.70, 1.10, 18), (2.80, 1.06, 15), (2.88, 1.09, 8), (2.97, 1.07, 45), (3.06, 1.10, 12),
    (3.14, 1.06, 18), (3.20, 1.09, 35), (2.64, 0.98, 18), (2.73, 0.96, 12), (2.82, 0.99, 8), (2.91, 0.97, 22),
    (3.00, 1.00, 10), (3.09, 0.96, 55), (3.17, 0.99, 15), (2.62, 0.88, 8), (2.70, 0.90, 22), (2.79, 0.86, 10),
    (2.87, 0.89, 18), (2.96, 0.87, 12), (3.04, 0.90, 30), (3.12, 0.86, 10), (3.19, 0.89, 18), (2.65, 0.78, 12),
    (2.74, 0.76, 25), (2.83, 0.79, 15), (2.92, 0.77, 10), (3.01, 0.80, 18), (3.10, 0.76, 50), (3.18, 0.79, 12),
    (2.62, 0.68, 18), (2.70, 0.70, 10), (2.78, 0.66, 35), (2.87, 0.69, 12), (2.96, 0.67, 22), (3.05, 0.70, 10),
    (3.13, 0.66, 15), (2.66, 0.59, 25), (2.75, 0.61, 12), (2.85, 0.58, 18), (2.95, 0.60, 10), (3.04, 0.58, 15),
    (3.14, 0.61, 18), (2.68, 1.02, 12), (2.86, 1.03, 15), (3.04, 1.03, 10), (2.76, 0.83, 10), (2.95, 0.82, 20),
    (3.15, 0.72, 15), (2.82, 0.73, 12), (3.00, 0.63, 25), (2.70, 0.63, 10), (3.11, 0.93, 18), (2.90, 1.13, 12),
    (2.78, 1.25, 10), (3.00, 1.28, 12),
    (2.60, 0.50, 10), (2.66, 0.44, 12), (2.82, 0.33, 10), (2.93, 0.41, 8), (3.12, 0.53, 12), (3.11, 0.62, 10),
    (2.81, 0.14, 8), (3.13, 0.14, 10), (3.09, -0.05, 8), (2.60, -0.30, 8), (3.02, -0.28, 10), (3.01, -0.70, 8),
    (3.12, -0.96, 10), (2.60, -1.26, 6), (2.90, -1.32, 8), (3.13, -1.73, 8), (3.06, -2.44, 6), (2.90, -3.08, 10),
]

# sensitivity guide lines: identity and +/- half log unit
guide_lo, guide_hi, guide_off = -3.0, 2.0, 0.5

# ---------------- Venn counts: only A, both, only B, neither ----------------
b_sets = ["HTPP", "Toxcast"]
b_counts = [7, 402, 492, 171]
d_sets = ["HTPP", "Burst"]
d_counts = [38, 371, 233, 429]


def lab_cmap(c0, c1, n=256):
    # ggplot style gradient, interpolated in CIE Lab
    M = np.array([[0.4124564, 0.3575761, 0.1804375],
                  [0.2126729, 0.7151522, 0.0721750],
                  [0.0193339, 0.1191920, 0.9503041]])
    wp = np.array([0.95047, 1.0, 1.08883])
    d = 6 / 29

    def to_lab(rgb):
        rgb = np.asarray(rgb, float)
        lin = np.where(rgb <= 0.04045, rgb / 12.92, ((rgb + 0.055) / 1.055) ** 2.4)
        xyz = M @ lin / wp
        f = np.where(xyz > d ** 3, np.cbrt(xyz), xyz / (3 * d * d) + 4 / 29)
        return np.array([116 * f[1] - 16, 500 * (f[0] - f[1]), 200 * (f[1] - f[2])])

    def to_rgb(lab):
        fy = (lab[0] + 16) / 116
        f = np.array([fy + lab[1] / 500, fy, fy - lab[2] / 200])
        xyz = np.where(f > d, f ** 3, 3 * d * d * (f - 4 / 29)) * wp
        lin = np.clip(np.linalg.solve(M, xyz), 0, 1)
        return np.clip(np.where(lin <= 0.0031308, 12.92 * lin, 1.055 * lin ** (1 / 2.4) - 0.055), 0, 1)

    l0, l1 = to_lab(c0), to_lab(c1)
    return ListedColormap([to_rgb(l0 + t * (l1 - l0)) for t in np.linspace(0, 1, n)])


def gg_style(ax):
    for sp in ax.spines.values():
        sp.set_color("#333333")
        sp.set_linewidth(1.0)
    ax.set_axisbelow(True)
    ax.grid(True, which="major", color="#EBEBEB", lw=1.1)
    ax.grid(True, which="minor", color="#EBEBEB", lw=0.55)
    ax.tick_params(which="major", length=3.5, width=0.9, color="#333333", labelcolor="#222222")
    ax.tick_params(which="minor", length=0)


def gg_colorbar(rect, cmap, norm, ticks, fs):
    cax = fig.add_axes(rect)
    cb = fig.colorbar(cm.ScalarMappable(norm=norm, cmap=cmap), cax=cax, ticks=ticks)
    cb.outline.set_visible(False)
    cax.yaxis.set_ticks_position("both")
    cax.tick_params(direction="in", length=4.5, width=0.9, color="white", labelsize=fs,
                    labelcolor="#222222", pad=5, labelleft=False, labelright=True)
    return cb


W, H = 1050, 996
fig = plt.figure(figsize=(W / 100, H / 100), dpi=100)


def rect(x0, y0, x1, y1):
    # pixel box (top-left origin) -> figure fraction
    return [x0 / W, 1 - y1 / H, (x1 - x0) / W, (y1 - y0) / H]


# ======================= A =======================
axA = fig.add_axes(rect(56, 2.7, 388, 442))
gg_style(axA)
vir = matplotlib.colormaps["viridis"]
normA = Normalize(0, 10.3)

ina = np.array(a_inactive_pts)
axA.scatter(1 + ina[:, 0], ina[:, 1], s=42, color=vir(normA(0.0)), edgecolors="k",
            linewidths=0.6, alpha=0.8, zorder=2)
act_dx = np.array([p[0] for p in a_active_pts])
act_y = np.array([p[1] for p in a_active_pts])
act_fc = [(0.5, 0.5, 0.5, 1.0) if p[2] is None else vir(normA(p[2])) for p in a_active_pts]
axA.scatter(2 + act_dx, act_y, s=42, c=act_fc, edgecolors="k", linewidths=0.6, alpha=0.75, zorder=2)

stats = []
for b in (a_box_inactive, a_box_active):
    stats.append(dict(whislo=b[0], q1=b[1], med=b[2], q3=b[3], whishi=b[4], fliers=[]))
axA.bxp(stats, positions=[1, 2], widths=0.75, showfliers=False, showcaps=False, zorder=4,
        boxprops=dict(color="#555555", lw=1.4), whiskerprops=dict(color="#555555", lw=1.4),
        medianprops=dict(color="#555555", lw=2.6))
for i, n in enumerate(a_counts):
    axA.text(i + 1, -3.0, f"n  = {n}", ha="center", va="center", fontsize=7.2, color="#222222")

axA.set_xlim(0.4, 2.6)
axA.set_ylim(-5.62, 54.15)
axA.set_xticks([1, 2], a_groups)
axA.set_yticks(np.arange(0, 51, 10))
axA.set_yticks(np.arange(-5, 50, 10), minor=True)
axA.tick_params(labelsize=11)
axA.set_xlabel("HTPP", fontsize=12.5, fontweight="bold", labelpad=3)
axA.set_ylabel("% active ToxCast assays", fontsize=12.5, fontweight="bold", labelpad=5)

gg_colorbar(rect(417.3, 171.7, 446.7, 321.7), vir, normA, [0, 2, 4, 6, 8, 10], 10.5)
fig.text(439 / W, 1 - 130 / H, "HTPP", ha="center", va="baseline", fontsize=12.3, fontweight="bold")
fig.text(439 / W, 1 - 154 / H, "Effect Size", ha="center", va="baseline", fontsize=12.3, fontweight="bold")

# ======================= C and E scatter panels =======================
br = lab_cmap((0, 0, 1), (1, 0, 0))


def sens_panel(ax, pts_list, norm, ylim, ylab, yticks, yminor):
    gg_style(ax)
    for pts in pts_list:
        arr = np.array(pts)
        ax.scatter(arr[:, 0], arr[:, 1], s=27, c=br(norm(arr[:, 2])), edgecolors="k",
                   linewidths=0.5, alpha=0.55, zorder=2)
    xs = np.array([guide_lo, guide_hi])
    ax.plot(xs, xs, color="k", lw=1.3, zorder=3)
    ax.plot(xs - [0, guide_off], xs - [0, guide_off] + guide_off, color="k", lw=1.3,
            dashes=(5, 3.5), zorder=3)
    ax.plot(xs + [guide_off, 0], xs + [guide_off, 0] - guide_off, color="k", lw=1.3,
            dashes=(5, 3.5), zorder=3)
    ax.set_xlim(-3.31, 3.51)
    ax.set_ylim(*ylim)
    ax.set_xticks([-3, -2, -1, 0, 1, 2, 3], ["-3", "-2", "-1", "0", "1", "2", "inactive"])
    ax.set_xticks(np.arange(-2.5, 3, 1.0), minor=True)
    ax.set_yticks(yticks, [str(t) for t in yticks[:-1]] + ["inactive"])
    ax.set_yticks(yminor, minor=True)
    ax.tick_params(labelsize=9.5)
    ax.set_xlabel(r"HTPP PAC log$_{10}$ (μM)", fontsize=11.5, fontweight="bold", labelpad=2)
    ax.set_ylabel(ylab, fontsize=11.5, fontweight="bold", labelpad=6)


axC = fig.add_axes(rect(587.6, 1.7, 940, 441.7))
normC = Normalize(0, 53)
sens_panel(axC, [c_points, c_inactive_pts], normC, (-4.96, 3.55), r"ToxCast POD log$_{10}$ (μM)",
           [-4, -3, -2, -1, 0, 1, 2, 3], np.arange(-4.5, 3, 1.0))
axC.text(-3.0, 1.71, "HTPP more sensitive", family="Lato", fontsize=12, ha="left", va="center", zorder=5)
axC.text(3.25, -4.32, "ToxCast more sensitive", family="Lato", fontsize=12, ha="right", va="center", zorder=5)
gg_colorbar(rect(969.8, 181, 999.5, 331.7), br, normC, [10, 20, 30, 40, 50], 11.5)
for txt, yb in zip(["% active", "ToxCast", "assays"], [128.3, 148.7, 168.5]):
    fig.text(969 / W, 1 - yb / H, txt, ha="left", va="baseline", fontsize=13.5)

axE = fig.add_axes(rect(525.7, 524.3, 947.8, 952.7))
normE = Normalize(0, 100)
sens_panel(axE, [e_points, e_inactive_pts], normE, (-3.39, 3.51), r"Burst lower bound log$_{10}$ (μM)",
           [-3, -2, -1, 0, 1, 2, 3], np.arange(-2.5, 3, 1.0))
axE.text(-2.82, 1.82, "HTPP more sensitive", family="Lato", fontsize=12, ha="left", va="center", zorder=5)
axE.text(2.72, -3.13, "burst more sensitive", family="Lato", fontsize=12, ha="right", va="center", zorder=5)
gg_colorbar(rect(977.2, 698.3, 1007, 848.3), br, normE, [0, 25, 50, 75, 100], 11.5)
for txt, yb in zip(["% active", "Burst", "assay"], [645, 666.7, 686.7]):
    fig.text(976.5 / W, 1 - yb / H, txt, ha="left", va="baseline", fontsize=13.5)

# ======================= B and D Venn diagrams =======================
axV = fig.add_axes(rect(0, 480, 520, 996))
axV.set_xlim(0, 520)
axV.set_ylim(996, 480)
axV.axis("off")


def venn(cx, cy, r, gap, cols, sets, counts, title, title_x, title_y, title_fs, set_y, num_y, out_y):
    left = Circle((cx, cy), r, fc=cols[0], ec="none")
    right = Circle((cx + gap, cy), r, fc=cols[1], ec="none")
    axV.add_patch(left)
    axV.add_patch(right)
    mid = Circle((cx + gap, cy), r, fc=cols[2], ec="none")
    axV.add_patch(mid)
    mid.set_clip_path(left)
    for x in (cx, cx + gap):
        axV.add_patch(Circle((x, cy), r, fill=False, ec="#333333", lw=0.8))
    xs = [cx - 0.52 * r, cx + gap / 2, cx + gap + 0.52 * r]
    for x, n in zip(xs, counts[:3]):
        axV.text(x, num_y, str(n), ha="center", va="baseline", fontsize=11.5)
    axV.text(cx + gap / 2, out_y, str(counts[3]), ha="center", va="baseline", fontsize=11.5)
    axV.text(cx - 0.84 * r, set_y, sets[0], ha="center", va="baseline", fontsize=11.5, fontweight="bold")
    axV.text(cx + gap + 0.7 * r, set_y, sets[1], ha="center", va="baseline", fontsize=11.5, fontweight="bold")
    t = axV.text(title_x, title_y, title, ha="center", va="baseline", family="Lato", fontsize=title_fs)
    bb = t.get_window_extent(renderer=fig.canvas.get_renderer())
    inv = axV.transData.inverted()
    x0, _ = inv.transform((bb.x0, bb.y0))
    x1, _ = inv.transform((bb.x1, bb.y0))
    axV.plot([x0, x1], [title_y + 3.5, title_y + 3.5], color="k", lw=1.0)


venn(165.3, 663.8, 78, 77.7, ["#EDD5FB", "#CDCDFB", "#BFA8F9"], b_sets, b_counts,
     "all ToxCast assays", 200, 545, 15, 583.3, 670, 756)
venn(175.8, 900, 77.7, 77.9, ["#EDD5FB", "#E5E5E5", "#D7C0E2"], d_sets, d_counts,
     "burst assays", 203.3, 783.3, 14, 819.3, 907.3, 993.3)

# ======================= panel letters =======================
for lab, x, yb, fs in [("A", 0, 24, 21), ("C", 476, 24, 21), ("B", 0, 540, 23),
                       ("D", 0, 751.5, 23), ("E", 432, 540, 23)]:
    fig.text(x / W, 1 - yb / H, lab, ha="left", va="baseline", fontsize=fs, fontweight="bold")

fig.savefig("out.png", dpi=100)
